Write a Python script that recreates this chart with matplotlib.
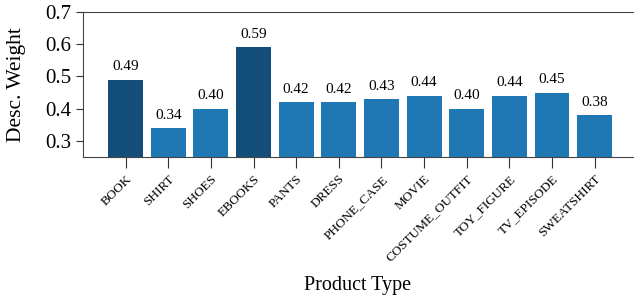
import matplotlib
matplotlib.use("Agg")
import matplotlib.pyplot as plt

categories = ["BOOK", "SHIRT", "SHOES", "EBOOKS", "PANTS", "DRESS", "PHONE_CASE",
              "MOVIE", "COSTUME_OUTFIT", "TOY_FIGURE", "TV_EPISODE", "SWEATSHIRT"]
values = [0.49, 0.34, 0.40, 0.59, 0.42, 0.42, 0.43, 0.44, 0.40, 0.44, 0.45, 0.38]
highlight = ["BOOK", "EBOOKS"]

plt.rcParams['font.family'] = ['Liberation Serif', 'DejaVu Serif']

fig = plt.figure(figsize=(6.34, 3.03), dpi=100)
ax = fig.add_axes([83/634, 1 - 157/303, (633-83)/634, (157-12)/303])

colors = ["#124e78" if c in highlight else "#1f77b4" for c in categories]
x = list(range(len(categories)))
bars = ax.bar(x, values, width=0.82, color=colors)
for xi, v in zip(x, values):
    ax.text(xi, v + 0.02, f"{v:.2f}", ha="center", va="bottom", fontsize=11)

ax.set_ylim(0.25, 0.7)
ax.set_xlim(-1.0, 11.9)
ax.set_yticks([0.3, 0.4, 0.5, 0.6, 0.7])
ax.set_yticklabels(["0.3", "0.4", "0.5", "0.6", "0.7"], fontsize=15)
ax.set_xticks(x)
ax.set_xticklabels(categories, rotation=45, ha="right", rotation_mode="anchor", fontsize=9.5)
ax.tick_params(axis="x", length=8, color="#333333")
ax.tick_params(axis="y", length=5, color="#333333")
ax.set_ylabel("Desc. Weight", fontsize=15.5)
ax.yaxis.set_label_coords(-0.103, 0.5)
ax.set_xlabel("Product Type", fontsize=14.5, labelpad=9)
ax.spines["right"].set_visible(False)
for s in ["left", "top", "bottom"]:
    ax.spines[s].set_color("#444444")

fig.savefig("out.png", dpi=100)
